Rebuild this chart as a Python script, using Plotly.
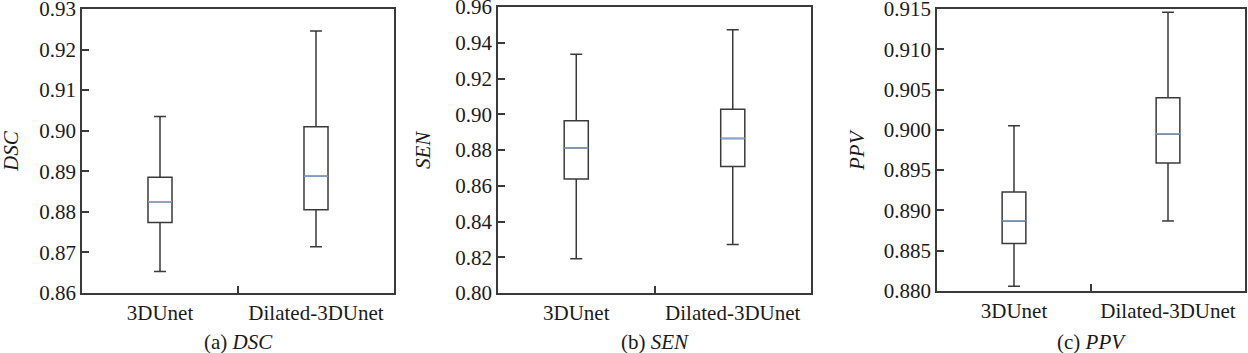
import plotly.graph_objects as go

categories = ["3DUnet", "Dilated-3DUnet"]
positions = [1, 2]

dsc_lower = [0.8653, 0.8714]
dsc_q1 = [0.8774, 0.8805]
dsc_median = [0.8825, 0.8888]
dsc_q3 = [0.8885, 0.9010]
dsc_upper = [0.9035, 0.9246]
dsc_ticks = [0.86, 0.87, 0.88, 0.89, 0.90, 0.91, 0.92, 0.93]

sen_lower = [0.8192, 0.8272]
sen_q1 = [0.8638, 0.8707]
sen_median = [0.8811, 0.8865]
sen_q3 = [0.8964, 0.9028]
sen_upper = [0.9335, 0.9473]
sen_ticks = [0.80, 0.82, 0.84, 0.86, 0.88, 0.90, 0.92, 0.94, 0.96]

ppv_lower = [0.8806, 0.8887]
ppv_q1 = [0.8859, 0.8959]
ppv_median = [0.8887, 0.8995]
ppv_q3 = [0.8923, 0.9040]
ppv_upper = [0.9005, 0.9146]
ppv_ticks = [0.880, 0.885, 0.890, 0.895, 0.900, 0.905, 0.910, 0.915]

panels = [
    dict(name="DSC", cap="(a) ", lo=dsc_lower, q1=dsc_q1, med=dsc_median, q3=dsc_q3, hi=dsc_upper,
         ticks=dsc_ticks, fmt=".2f", xdom=[82/1248, 394/1248], ydom=[1-293/353, 1-9/353], titlex=11),
    dict(name="SEN", cap="(b) ", lo=sen_lower, q1=sen_q1, med=sen_median, q3=sen_q3, hi=sen_upper,
         ticks=sen_ticks, fmt=".2f", xdom=[498/1248, 811/1248], ydom=[1-293/353, 1-7/353], titlex=423),
    dict(name="PPV", cap="(c) ", lo=ppv_lower, q1=ppv_q1, med=ppv_median, q3=ppv_q3, hi=ppv_upper,
         ticks=ppv_ticks, fmt=".3f", xdom=[937/1248, 1245/1248], ydom=[1-291/353, 1-9/353], titlex=857),
]

BOXW = 0.154
FONT = "Liberation Serif"
TXT = "#1a1a1a"
LINE = "#3a3a3a"
MED = "#8aa6cc"

fig = go.Figure()
layout = dict(
    width=1248, height=353, margin=dict(l=0, r=0, t=0, b=0, autoexpand=False),
    paper_bgcolor="white", plot_bgcolor="white", showlegend=False,
    font=dict(family=FONT, size=21, color=TXT),
)
annotations = []
for i, p in enumerate(panels):
    k = "" if i == 0 else str(i + 1)
    xa, ya = "x" + k, "y" + k
    fig.add_trace(go.Box(
        x=positions, q1=p["q1"], median=p["med"], q3=p["q3"],
        lowerfence=p["lo"], upperfence=p["hi"],
        width=BOXW, whiskerwidth=0.5, fillcolor="white",
        line=dict(color=LINE, width=1.5), boxpoints=False,
        xaxis=xa, yaxis=ya, hoverinfo="skip",
    ))
    for pos, m in zip(positions, p["med"]):
        fig.add_trace(go.Scatter(
            x=[pos - BOXW / 2, pos + BOXW / 2], y=[m, m], mode="lines",
            line=dict(color=MED, width=1.5), xaxis=xa, yaxis=ya, hoverinfo="skip",
        ))
    layout["xaxis" + k] = dict(
        domain=p["xdom"], anchor=ya, range=[0.5, 2.5], automargin=False,
        tickmode="array", tickvals=positions, ticktext=categories, ticks="",
        minor=dict(tickmode="array", tickvals=[1.5], ticks="inside", ticklen=7, tickcolor=LINE, tickwidth=1.5),
        showline=True, mirror=True, linecolor=LINE, linewidth=1.5,
        showgrid=False, zeroline=False, fixedrange=True,
        tickfont=dict(family=FONT, size=21, color=TXT),
    )
    layout["yaxis" + k] = dict(
        domain=p["ydom"], anchor=xa, range=[p["ticks"][0], p["ticks"][-1]], automargin=False,
        tickmode="array", tickvals=p["ticks"], ticklabeloverflow="allow",
        tickformat=p["fmt"], ticks="inside", ticklen=7, tickcolor=LINE, tickwidth=1.5,
        showline=True, mirror=True, linecolor=LINE, linewidth=1.5,
        showgrid=False, zeroline=False, fixedrange=True,
        tickfont=dict(family=FONT, size=21, color=TXT),
    )
    annotations.append(dict(
        text="<i>" + p["name"] + "</i>", xref="paper", yref="paper",
        x=p["titlex"] / 1248, y=(p["ydom"][0] + p["ydom"][1]) / 2, textangle=-90,
        showarrow=False, xanchor="center", yanchor="middle",
        font=dict(family=FONT, size=21, color=TXT),
    ))
    annotations.append(dict(
        text=p["cap"] + "<i>" + p["name"] + "</i>", xref="paper", yref="paper",
        x=(p["xdom"][0] + p["xdom"][1]) / 2, y=1 - 342 / 353,
        showarrow=False, xanchor="center", yanchor="middle",
        font=dict(family=FONT, size=21, color=TXT),
    ))
layout["annotations"] = annotations
fig.update_layout(**layout)
fig.write_html("out.html")
